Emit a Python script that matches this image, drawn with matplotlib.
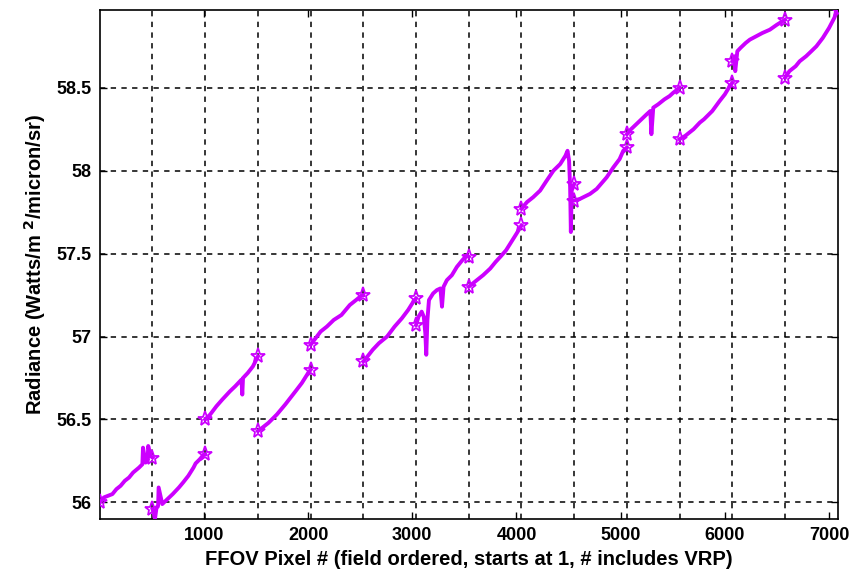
import matplotlib.pyplot as plt
from matplotlib.ticker import FormatStrFormatter
import numpy as np

# segment length (pixels per segment), 14 segments
seg_len = 506
n_seg = 14

seg_x = [
    [1, 40, 80, 121, 160, 200, 240, 281, 320, 377, 409, 415, 440, 460, 465, 489, 506],
    [506, 520, 530, 545, 560, 565, 600, 650, 700, 760, 800, 850, 900, 920, 960, 1000, 1012],
    [1012, 1060, 1120, 1176, 1250, 1300, 1360, 1368, 1375, 1420, 1470, 1518],
    [1518, 1560, 1620, 1700, 1780, 1879, 1940, 2000, 2024],
    [2024, 2060, 2120, 2180, 2246, 2320, 2400, 2460, 2518, 2530],
    [2530, 2570, 2620, 2680, 2758, 2830, 2900, 2960, 3010, 3036],
    [3036, 3060, 3090, 3110, 3125, 3134, 3145, 3160, 3200, 3236, 3270, 3285, 3300,
     3332, 3380, 3428, 3480, 3524, 3542],
    [3542, 3600, 3680, 3748, 3800, 3844, 3900, 3950, 4000, 4048],
    [4048, 4100, 4160, 4227, 4290, 4355, 4420, 4470, 4490, 4505, 4515, 4522, 4530, 4554],
    [4554, 4610, 4706, 4770, 4866, 4930, 4990, 5025, 5060],
    [5060, 5100, 5150, 5200, 5250, 5285, 5295, 5313, 5360, 5420, 5470, 5505, 5566],
    [5566, 5620, 5700, 5760, 5800, 5880, 5950, 6000, 6048, 6072],
    [6072, 6090, 6100, 6120, 6150, 6200, 6240, 6300, 6360, 6432, 6500, 6578],
    [6578, 6620, 6680, 6719, 6780, 6830, 6879, 6940, 7000, 7050, 7084],
]
seg_y = [
    [56.00, 56.03, 56.04, 56.05, 56.08, 56.10, 56.13, 56.15, 56.18, 56.21, 56.23, 56.33,
     56.24, 56.26, 56.34, 56.28, 56.27],
    [55.96, 55.93, 55.90, 55.97, 55.98, 56.09, 55.99, 56.02, 56.05, 56.09, 56.12, 56.16,
     56.21, 56.235, 56.26, 56.29, 56.29],
    [56.50, 56.53, 56.58, 56.62, 56.67, 56.70, 56.74, 56.65, 56.75, 56.78, 56.82, 56.88],
    [56.43, 56.45, 56.48, 56.53, 56.59, 56.67, 56.72, 56.78, 56.80],
    [56.95, 56.98, 57.03, 57.06, 57.10, 57.13, 57.19, 57.22, 57.25, 57.25],
    [56.85, 56.88, 56.92, 56.96, 57.00, 57.06, 57.11, 57.16, 57.21, 57.23],
    [57.07, 57.12, 57.15, 57.12, 57.02, 56.89, 57.10, 57.22, 57.26, 57.28, 57.29, 57.18,
     57.30, 57.34, 57.37, 57.42, 57.46, 57.49, 57.48],
    [57.30, 57.33, 57.37, 57.41, 57.45, 57.48, 57.52, 57.57, 57.62, 57.67],
    [57.77, 57.81, 57.84, 57.88, 57.94, 58.00, 58.04, 58.09, 58.12, 58.06, 57.90, 57.63,
     57.88, 57.92],
    [57.82, 57.83, 57.86, 57.89, 57.96, 58.02, 58.07, 58.12, 58.14],
    [58.22, 58.25, 58.28, 58.31, 58.34, 58.36, 58.22, 58.38, 58.40, 58.43, 58.45, 58.47, 58.50],
    [58.19, 58.21, 58.25, 58.29, 58.31, 58.36, 58.42, 58.46, 58.51, 58.53],
    [58.66, 58.69, 58.60, 58.72, 58.74, 58.77, 58.79, 58.81, 58.83, 58.85, 58.88, 58.91],
    [58.56, 58.60, 58.63, 58.66, 58.69, 58.72, 58.75, 58.80, 58.86, 58.92, 58.97],
]

col = '#cc00ff'

plt.rcParams['font.family'] = ['Liberation Sans', 'DejaVu Sans']
plt.rcParams['font.weight'] = 'bold'

fig = plt.figure(figsize=(8.61, 5.76), dpi=100)
ax = fig.add_axes([0.116, 0.099, 0.857, 0.884])

for xs, ys in zip(seg_x, seg_y):
    ax.plot(xs, ys, color=col, lw=2.8, solid_joinstyle='round', zorder=3)
    ax.plot([xs[0], xs[-1]], [ys[0], ys[-1]], ls='none', marker='*',
            markersize=11, markerfacecolor='none', markeredgecolor=col,
            markeredgewidth=1.3, zorder=4)

# segment boundaries
for k in range(1, n_seg):
    ax.axvline(k * seg_len, color='black', ls=(0, (3.5, 3.5)), lw=1.1, zorder=1)

ax.set_xlim(1, 7084)
ax.set_ylim(55.90, 58.97)
ax.set_xticks(np.arange(1000, 7001, 1000))
ax.set_yticks(np.arange(56, 58.51, 0.5))
ax.yaxis.set_major_formatter(FormatStrFormatter('%g'))
ax.yaxis.grid(True, color='black', ls=(0, (3.5, 3.5)), lw=1.1)
ax.set_axisbelow(True)
ax.tick_params(direction='in', top=True, right=True, length=5, width=1,
               labelsize=13, pad=6)
for lab in ax.get_xticklabels() + ax.get_yticklabels():
    lab.set_fontweight('bold')
for s in ax.spines.values():
    s.set_linewidth(1.2)

ax.set_xlabel('FFOV Pixel # (field ordered, starts at 1, # includes VRP)',
              fontsize=14.5, fontweight='bold', labelpad=4)
ax.set_ylabel('Radiance (Watts/m $^{2}$/micron/sr)', fontsize=14.5,
              fontweight='bold', labelpad=6)

fig.savefig('out.png', dpi=100)
